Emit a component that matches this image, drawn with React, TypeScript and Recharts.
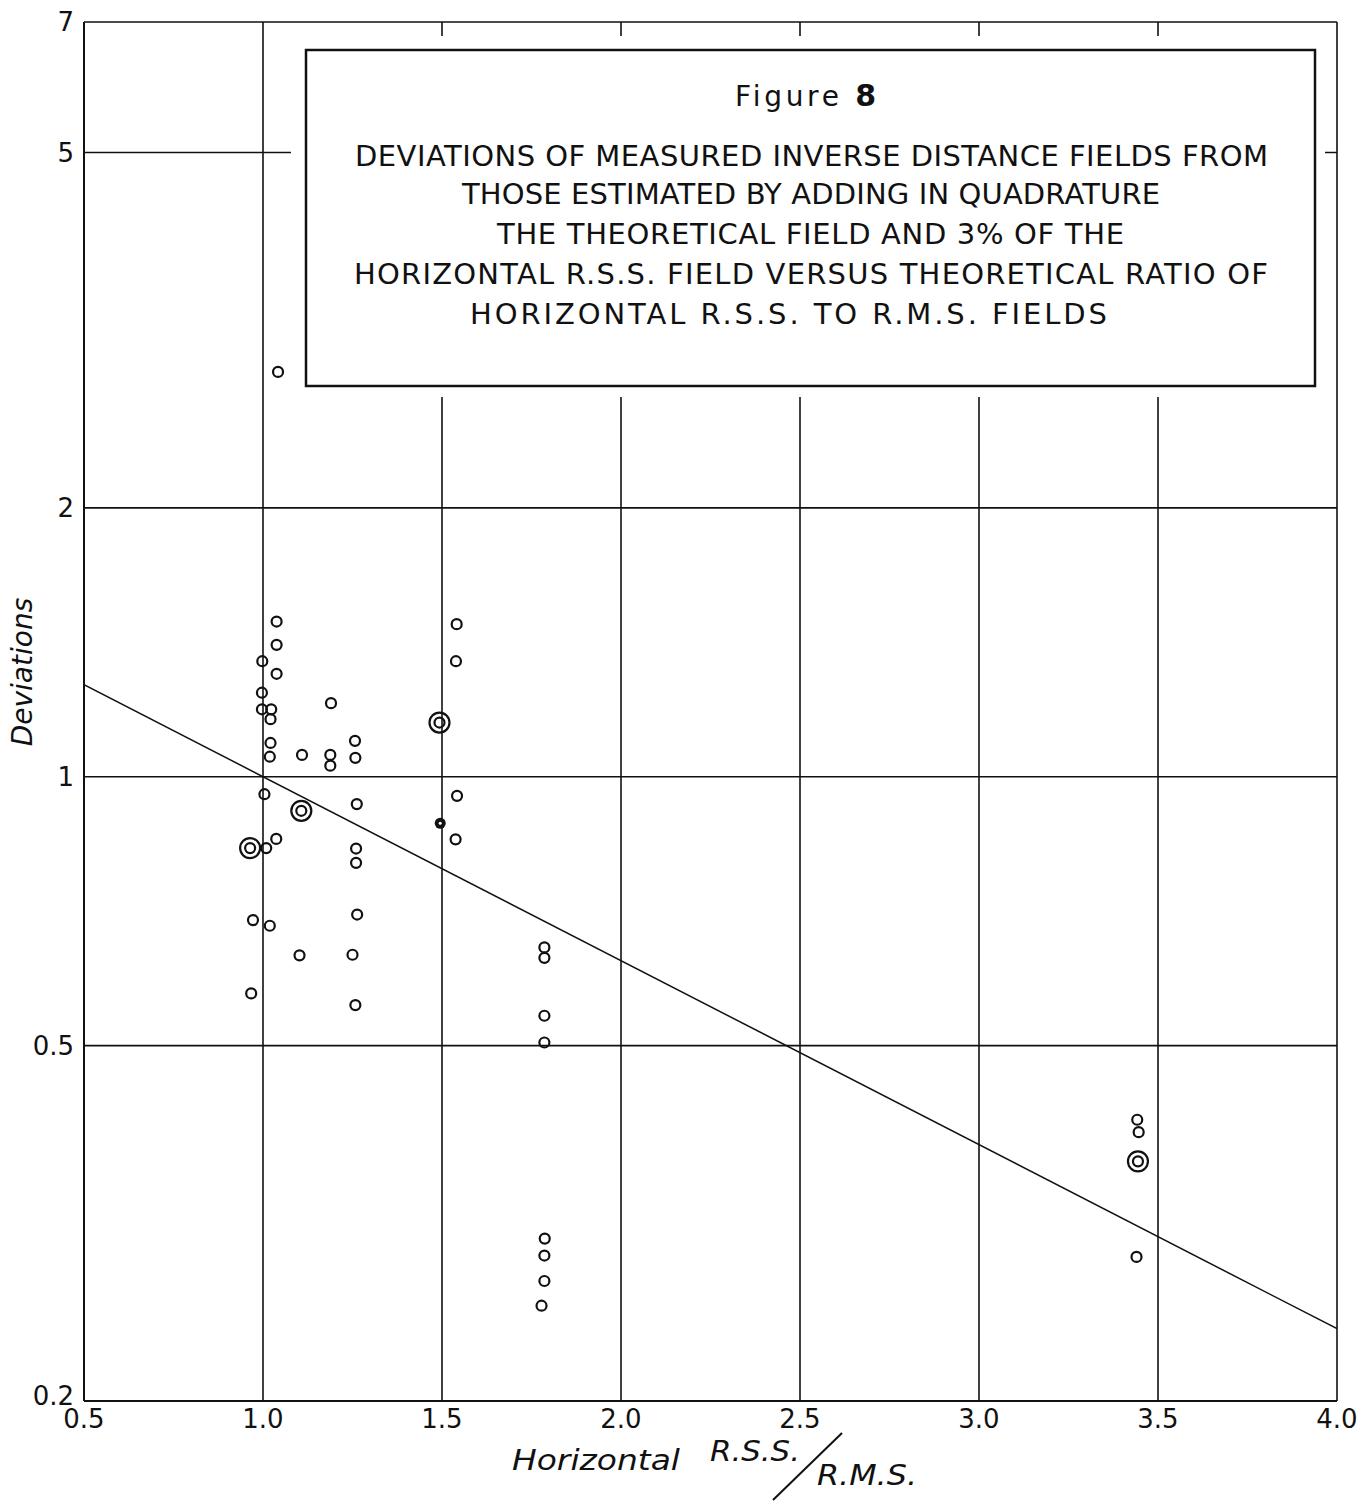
import React from "react";
import { ScatterChart, Scatter, XAxis, YAxis, CartesianGrid } from "recharts";

// axis ticks
const xTicks = [0.5, 1.0, 1.5, 2.0, 2.5, 3.0, 3.5, 4.0];
const yTicks = [0.2, 0.5, 1, 2, 5, 7];

// plain open circles [ratio, deviation]
const openCircles: [number, number][] = [
  [1.042, 2.84],
  [1.038, 1.492],
  [1.038, 1.405],
  [0.998, 1.347],
  [1.038, 1.304],
  [0.997, 1.242],
  [0.997, 1.19],
  [1.023, 1.19],
  [1.021, 1.16],
  [1.19, 1.209],
  [1.021, 1.091],
  [1.019, 1.053],
  [1.109, 1.058],
  [1.188, 1.058],
  [1.188, 1.029],
  [1.257, 1.097],
  [1.258, 1.05],
  [1.541, 1.482],
  [1.539, 1.347],
  [1.004, 0.956],
  [1.262, 0.932],
  [1.542, 0.952],
  [1.538, 0.851],
  [1.037, 0.852],
  [1.009, 0.832],
  [1.26, 0.831],
  [1.26, 0.801],
  [0.972, 0.691],
  [1.019, 0.681],
  [1.263, 0.701],
  [1.102, 0.631],
  [1.25, 0.632],
  [0.967, 0.572],
  [1.258, 0.555],
  [1.786, 0.644],
  [1.786, 0.627],
  [1.786, 0.54],
  [1.786, 0.504],
  [1.787, 0.304],
  [1.786, 0.291],
  [1.786, 0.2725],
  [1.778, 0.2557],
  [3.442, 0.413],
  [3.446, 0.4],
  [3.44, 0.29],
];

// ringed (double) circles
const ringedCircles: [number, number][] = [
  [1.493, 1.15],
  [1.107, 0.916],
  [0.964, 0.832],
  [3.444, 0.371],
];

// filled circle
const solidCircles: [number, number][] = [[1.495, 0.887]];

// fitted trend line end points
const fitLine: [number, number][] = [
  [0.5, 1.268],
  [4.0, 0.241],
];

const titleLines = [
  "DEVIATIONS OF MEASURED INVERSE DISTANCE FIELDS FROM",
  "THOSE ESTIMATED BY ADDING IN QUADRATURE",
  "THE THEORETICAL FIELD AND 3% OF THE",
  "HORIZONTAL R.S.S. FIELD VERSUS THEORETICAL RATIO OF",
  "HORIZONTAL R.S.S. TO R.M.S. FIELDS",
];

const toPts = (a: [number, number][]) => a.map(([x, y]) => ({ x, y }));

const INK = "#111";
const FONT = "'DejaVu Sans', sans-serif";

const OpenDot = (p: any) => (
  <circle cx={p.cx} cy={p.cy} r={5} fill="none" stroke={INK} strokeWidth={2.2} />
);

const RingDot = (p: any) => (
  <g>
    <circle cx={p.cx} cy={p.cy} r={10} fill="none" stroke={INK} strokeWidth={2.2} />
    <circle cx={p.cx} cy={p.cy} r={5} fill="none" stroke={INK} strokeWidth={2.2} />
  </g>
);

const SolidDot = (p: any) => (
  <g>
    <circle cx={p.cx} cy={p.cy} r={5.5} fill={INK} />
    <circle cx={p.cx} cy={p.cy} r={1.5} fill="#fff" />
  </g>
);

const NoDot = () => <g />;

// y tick: the 0.2 label sits a little above the axis line
const YTick = (p: any) => {
  const v = p.payload.value;
  const dy = v === 0.2 ? -5 : 0;
  return (
    <text
      x={p.x}
      y={p.y + dy}
      textAnchor="end"
      dominantBaseline="central"
      fill={INK}
      fontSize={26}
      fontFamily={FONT}
    >
      {String(v)}
    </text>
  );
};

// title box placement (x start, baseline, width)
const titleX = [355, 462, 497, 354, 470];
const titleBase = [166, 204, 244, 284, 324];
const titleW = [913, 698, 627, 914, 637];

export default function App() {
  return (
    <div
      style={{
        position: "absolute",
        left: 0,
        top: 0,
        width: 1361,
        height: 1501,
        background: "#fff",
      }}
    >
      <ScatterChart
        width={1361}
        height={1501}
        margin={{ top: 22, right: 24, bottom: 70, left: 24 }}
      >
        <CartesianGrid stroke={INK} strokeWidth={1.6} />
        <XAxis
          type="number"
          dataKey="x"
          domain={[0.5, 4]}
          ticks={xTicks}
          allowDataOverflow
          tickFormatter={(v: number) => v.toFixed(1)}
          tick={{ fill: INK, fontSize: 26, fontFamily: FONT }}
          tickLine={false}
          tickSize={0}
          tickMargin={9}
          axisLine={{ stroke: INK, strokeWidth: 2 }}
        />
        <YAxis
          type="number"
          dataKey="y"
          scale="log"
          domain={[0.2, 7]}
          ticks={yTicks}
          allowDataOverflow
          width={60}
          tick={<YTick />}
          tickLine={false}
          tickSize={0}
          tickMargin={10}
          axisLine={{ stroke: INK, strokeWidth: 2 }}
        />
        <Scatter
          data={toPts(fitLine)}
          line={{ stroke: INK, strokeWidth: 1.5 }}
          shape={NoDot}
          isAnimationActive={false}
        />
        <Scatter data={toPts(openCircles)} shape={OpenDot} isAnimationActive={false} />
        <Scatter data={toPts(ringedCircles)} shape={RingDot} isAnimationActive={false} />
        <Scatter data={toPts(solidCircles)} shape={SolidDot} isAnimationActive={false} />
      </ScatterChart>

      <svg
        width={1361}
        height={1501}
        style={{ position: "absolute", left: 0, top: 0, pointerEvents: "none" }}
      >
        {/* white gap around the title box */}
        <rect x={291} y={36} width={1034} height={361} fill="#fff" />
        <rect x={306} y={50} width={1009} height={336} fill="#fff" stroke={INK} strokeWidth={2.5} />
        <text x={735} y={106} fontFamily={FONT} fontSize={28} fill={INK} textLength={141} lengthAdjust="spacing">
          Figure <tspan fontWeight="bold" fontSize={30}>8</tspan>
        </text>
        {titleLines.map((t, i) => (
          <text
            key={i}
            x={titleX[i]}
            y={titleBase[i]}
            fontFamily={FONT}
            fontSize={29}
            fill={INK}
            textLength={titleW[i]}
            lengthAdjust="spacing"
          >
            {t}
          </text>
        ))}

        {/* y axis title */}
        <text
          transform="translate(32 672) rotate(-90)"
          textAnchor="middle"
          fontFamily={FONT}
          fontStyle="italic"
          fontSize={28}
          fill={INK}
        >
          Deviations
        </text>

        {/* x axis title */}
        <text x={512} y={1470} fontFamily={FONT} fontStyle="italic" fontSize={28} fill={INK} textLength={168} lengthAdjust="spacingAndGlyphs">
          Horizontal
        </text>
        <text x={710} y={1461} fontFamily={FONT} fontStyle="italic" fontSize={29} fill={INK} textLength={90} lengthAdjust="spacingAndGlyphs">
          R.S.S.
        </text>
        <line x1={842} y1={1433} x2={773} y2={1500} stroke={INK} strokeWidth={2} />
        <text x={817} y={1485} fontFamily={FONT} fontStyle="italic" fontSize={29} fill={INK} textLength={100} lengthAdjust="spacingAndGlyphs">
          R.M.S.
        </text>
      </svg>
    </div>
  );
}
